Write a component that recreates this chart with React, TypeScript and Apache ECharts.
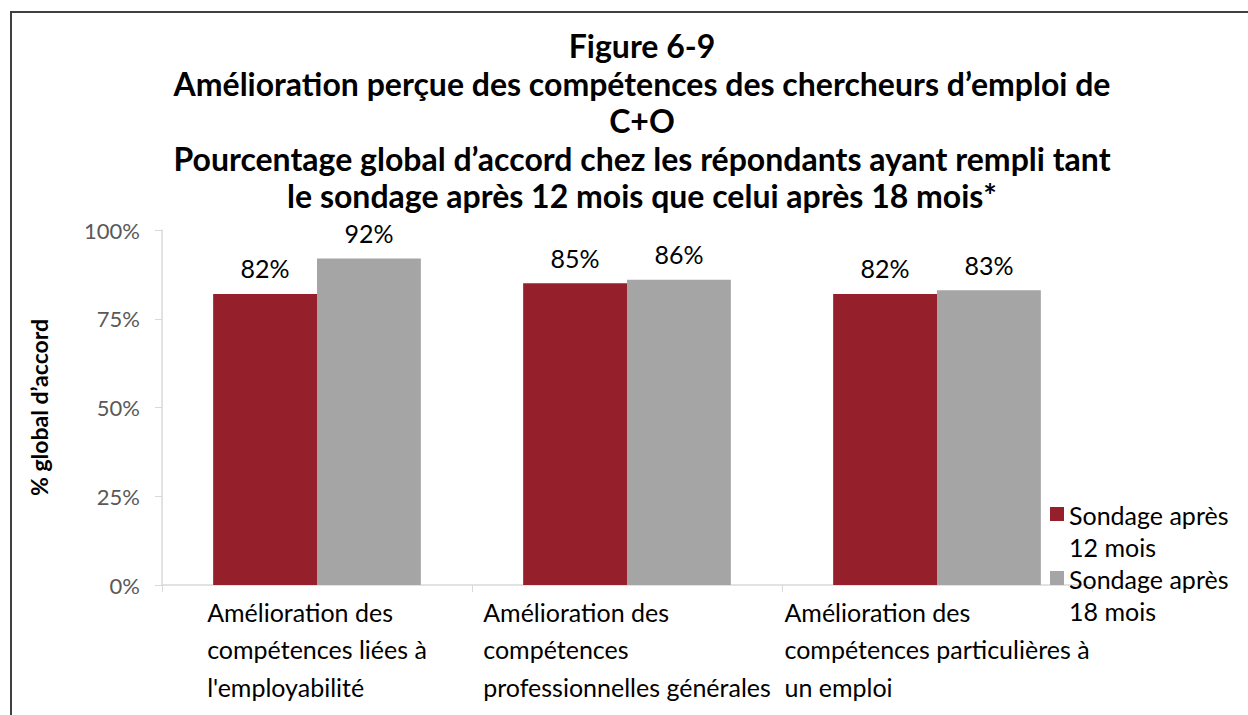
import React, { useEffect, useRef } from "react";
import * as echarts from "echarts";

const titleLines = [
  "Figure 6-9",
  "Amélioration perçue des compétences des chercheurs d’emploi de",
  "C+O",
  "Pourcentage global d’accord chez les répondants ayant rempli tant",
  "le sondage après 12 mois que celui après 18 mois*",
];
const categories = [
  "Amélioration des\ncompétences liées à\nl'employabilité",
  "Amélioration des\ncompétences\nprofessionnelles générales",
  "Amélioration des\ncompétences particulières à\nun emploi",
];
const seriesNames = ["Sondage après\n12 mois", "Sondage après\n18 mois"];
const values12 = [82, 85, 82];
const values18 = [92, 86, 83];
const yTicks = [0, 25, 50, 75, 100];
const yAxisName = "% global d’accord";

const FONT = "Lato";
const RED = "#95202B";
const GRAY = "#A5A5A5";

export default function App() {
  const ref = useRef<HTMLDivElement>(null);
  useEffect(() => {
    if (!ref.current) return;
    const chart = echarts.init(ref.current, undefined, { renderer: "svg" });
    const legendIcon = "path://M0,0M0,8.5h14v14h-14zM0,64";
    chart.setOption({
      animation: false,
      textStyle: { fontFamily: FONT },
      title: {
        text: titleLines.join("\n"),
        left: 637,
        top: 22,
        textAlign: "center",
        textStyle: {
          fontFamily: FONT,
          fontSize: 32,
          fontWeight: "bold",
          color: "#000",
          lineHeight: 37.5,
        },
      },
      graphic: [
        {
          type: "polyline",
          shape: { points: [[11, 715], [11, 12], [1248, 12]] },
          style: { stroke: "#404040", lineWidth: 2, fill: "none" },
          silent: true,
        },
      ],
      legend: {
        orient: "vertical",
        left: 1050,
        top: 498.5,
        padding: 0,
        itemGap: 0,
        itemWidth: 14,
        itemHeight: 64,
        icon: legendIcon,
        data: seriesNames,
        textStyle: {
          fontFamily: FONT,
          fontSize: 25,
          lineHeight: 32,
          color: "#000",
        },
      },
      grid: { left: 162, right: 156, top: 230, bottom: 130 },
      xAxis: {
        type: "category",
        data: categories,
        axisLine: { lineStyle: { color: "#D9D9D9", width: 1.5 } },
        axisTick: { show: true, length: 7, lineStyle: { color: "#D9D9D9" } },
        axisLabel: {
          interval: 0,
          margin: 8,
          formatter: (v: string) =>
            v
              .split("\n")
              .map((l) => `{a|${l}}`)
              .join("\n"),
          rich: {
            a: {
              align: "left",
              fontFamily: FONT,
              fontSize: 25,
              lineHeight: 37.5,
              color: "#000",
            },
          },
        },
      },
      yAxis: {
        type: "value",
        min: 0,
        max: 100,
        interval: 25,
        name: yAxisName,
        nameLocation: "middle",
        nameGap: 112,
        nameTextStyle: {
          fontFamily: FONT,
          fontSize: 23,
          fontWeight: "bold",
          color: "#000",
        },
        axisLine: { show: true, lineStyle: { color: "#D9D9D9", width: 1.5 } },
        axisTick: { show: true, length: 7, lineStyle: { color: "#D9D9D9" } },
        splitLine: { show: false },
        axisLabel: {
          margin: 22,
          fontFamily: FONT,
          fontSize: 22,
          color: "#595959",
          formatter: (v: number) => (yTicks.includes(v) ? `${v}%` : ""),
        },
      },
      series: [
        {
          name: seriesNames[0],
          type: "bar",
          data: values12,
          barGap: "0%",
          barCategoryGap: "33%",
          itemStyle: { color: RED },
          label: {
            show: true,
            position: "top",
            distance: 13,
            formatter: "{c}%",
            fontFamily: FONT,
            fontSize: 25,
            color: "#000",
          },
        },
        {
          name: seriesNames[1],
          type: "bar",
          data: values18,
          barGap: "0%",
          barCategoryGap: "33%",
          itemStyle: { color: GRAY },
          label: {
            show: true,
            position: "top",
            distance: 13,
            formatter: "{c}%",
            fontFamily: FONT,
            fontSize: 25,
            color: "#000",
          },
        },
      ],
    });
    return () => chart.dispose();
  }, []);
  return (
    <div
      ref={ref}
      style={{ position: "absolute", left: 0, top: 0, width: 1248, height: 715, background: "#fff" }}
    />
  );
}
